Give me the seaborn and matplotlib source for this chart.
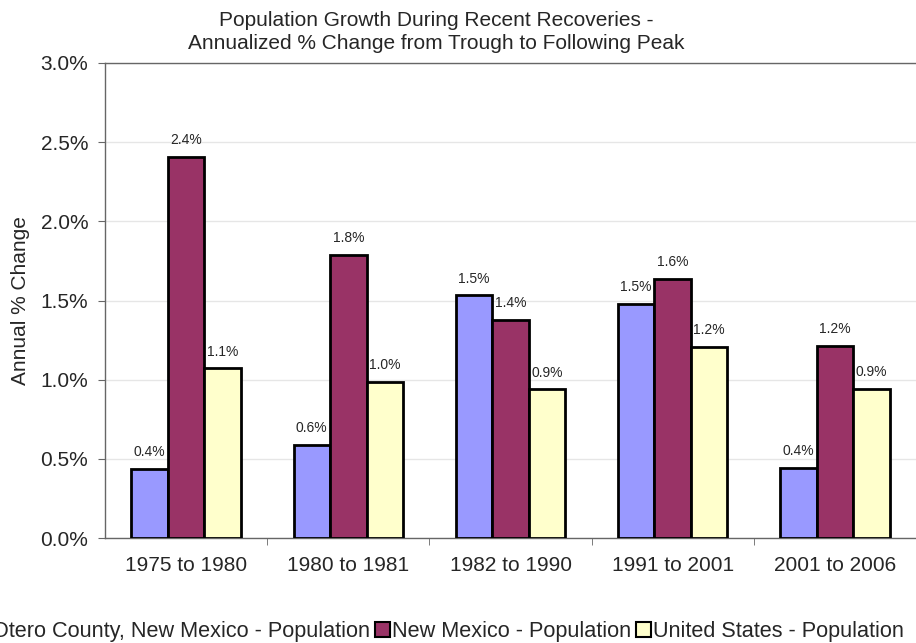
import seaborn as sns
import matplotlib.pyplot as plt
import pandas as pd
from matplotlib.ticker import FuncFormatter, FixedLocator

periods = ["1975 to 1980", "1980 to 1981", "1982 to 1990", "1991 to 2001", "2001 to 2006"]
series = ["Otero County, New Mexico - Population", "New Mexico - Population", "United States - Population"]
otero = [0.436, 0.589, 1.532, 1.481, 0.441]
new_mexico = [2.407, 1.788, 1.379, 1.636, 1.212]
united_states = [1.072, 0.987, 0.939, 1.206, 0.941]
colors = ["#9999FF", "#993366", "#FFFFCC"]

rows = []
for s, vals in zip(series, [otero, new_mexico, united_states]):
    for p, v in zip(periods, vals):
        rows.append({"period": p, "series": s, "value": v})
df = pd.DataFrame(rows)

sns.set_style("white")
plt.rcParams["font.family"] = ["Liberation Sans", "DejaVu Sans"]

fig = plt.figure(figsize=(9.16, 6.43), dpi=100)
ax = fig.add_axes([105 / 916, 1 - 538 / 643, (916 - 105) / 916, (538 - 63) / 643])

sns.barplot(data=df, x="period", y="value", hue="series", palette=colors,
            width=0.675, edgecolor="black", linewidth=2, saturation=1, ax=ax, zorder=3)

for cont in ax.containers:
    ax.bar_label(cont, fmt="%.1f%%", padding=7, fontsize=10)

ax.set_ylim(0, 3.0)
ax.set_xlim(-0.5, 4.5)
ax.set_yticks([0, 0.5, 1.0, 1.5, 2.0, 2.5, 3.0])
ax.yaxis.set_major_formatter(FuncFormatter(lambda v, pos: f"{v:.1f}%"))
ax.grid(axis="y", color="#e6e6e6", linewidth=1, zorder=0)
ax.set_axisbelow(True)

ax.set_xlabel("")
ax.set_ylabel("Annual % Change", fontsize=15)
ax.yaxis.set_label_coords(-0.093, 0.5)
ax.tick_params(axis="x", labelsize=15, length=0, pad=13)
ax.tick_params(axis="y", labelsize=15, direction="out", length=5, left=True, color="#666666", pad=7)

# separators between categories on x axis
ax.xaxis.set_minor_locator(FixedLocator([0.5, 1.5, 2.5, 3.5]))
ax.tick_params(axis="x", which="minor", direction="out", length=5, bottom=True, color="#666666")

ax.spines["right"].set_visible(False)
for side in ["left", "bottom", "top"]:
    ax.spines[side].set_color("#666666")
    ax.spines[side].set_linewidth(1)

fig.text(436 / 916, 1 - 32 / 643,
         "Population Growth During Recent Recoveries -\nAnnualized % Change from Trough to Following Peak",
         ha="center", va="center", fontsize=15, linespacing=1.25)

handles, labels = ax.get_legend_handles_labels()
ax.get_legend().remove()
leg = fig.legend(handles, labels, loc="center", bbox_to_anchor=(439.5 / 916, 1 - 632 / 643),
                 ncol=3, frameon=False, fontsize=15.6, handlelength=0.69, handleheight=0.69,
                 handletextpad=0.12, columnspacing=0.2, borderpad=0, borderaxespad=0)
for h in leg.legend_handles:
    h.set_linewidth(1.5)

fig.savefig("out.png", dpi=100)
